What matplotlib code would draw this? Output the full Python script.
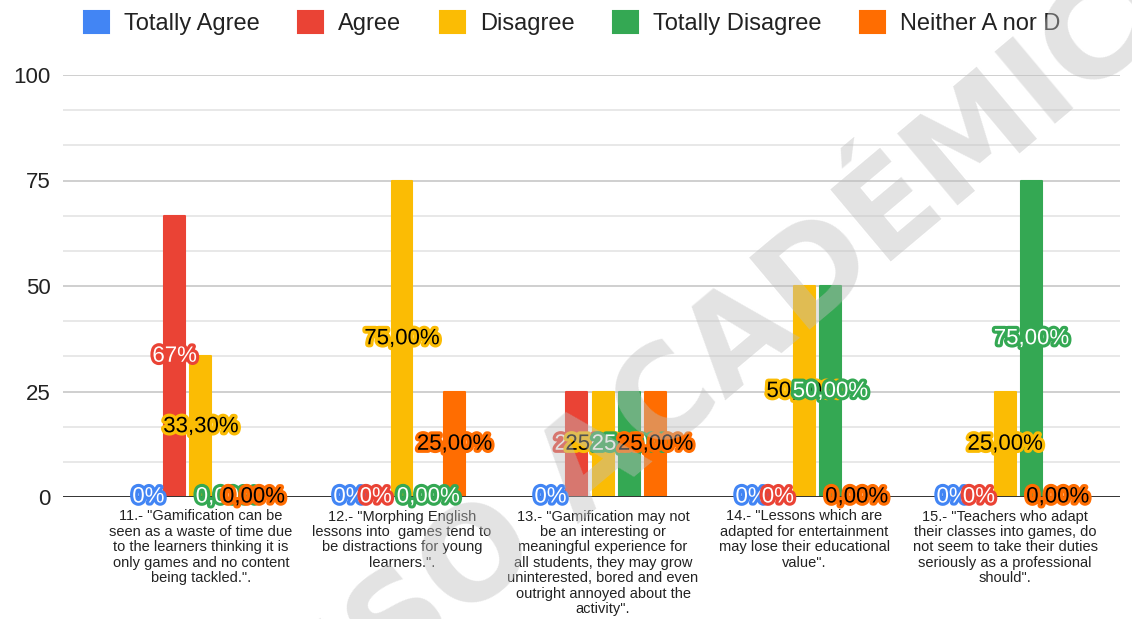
import matplotlib
matplotlib.use("Agg")
import matplotlib.pyplot as plt
import matplotlib.patheffects as pe
import numpy as np

plt.rcParams['font.family'] = ['Liberation Sans', 'DejaVu Sans']

categories = [
    '11.- "Gamification can be\nseen as a waste of time due\nto the learners thinking it is\nonly games and no content\nbeing tackled.".',
    '12.- "Morphing English\nlessons into  games tend to\nbe distractions for young\nlearners.".',
    '13.- "Gamification may not\nbe an interesting or\nmeaningful experience for\nall students, they may grow\nuninterested, bored and even\noutright annoyed about the\nactivity".',
    '14.- "Lessons which are\nadapted for entertainment\nmay lose their educational\nvalue".',
    '15.- "Teachers who adapt\ntheir classes into games, do\nnot seem to take their duties\nseriously as a professional\nshould".',
]
series_names = ['Totally Agree', 'Agree', 'Disagree', 'Totally Disagree', 'Neither A nor D']
totally_agree = [0, 0, 0, 0, 0]
agree = [66.7, 0, 25, 0, 0]
disagree = [33.3, 75, 25, 50, 25]
totally_disagree = [0, 0, 25, 50, 75]
neither = [0, 25, 25, 0, 0]

totally_agree_labels = ['0%', '0%', '0%', '0%', '0%']
agree_labels = ['67%', '0%', '25%', '0%', '0%']
disagree_labels = ['33,30%', '75,00%', '25,00%', '50,00%', '25,00%']
totally_disagree_labels = ['0,00%', '0,00%', '25,00%', '50,00%', '75,00%']
neither_labels = ['0,00%', '25,00%', '25,00%', '0,00%', '0,00%']

y_ticks = [0, 25, 50, 75, 100]
watermark = 'USO ACADÉMICO'

values = [totally_agree, agree, disagree, totally_disagree, neither]
labels = [totally_agree_labels, agree_labels, disagree_labels, totally_disagree_labels, neither_labels]
colors = ['#4285F4', '#EA4335', '#FBBC04', '#34A853', '#FF6D01']
text_colors = ['white', 'white', 'black', 'white', 'black']

W, H = 1132, 619
fig = plt.figure(figsize=(W / 100, H / 100), dpi=100)
ax = fig.add_axes([63 / W, 1 - 497 / H, (1120 - 63) / W, (497 - 75) / H])

x = np.arange(len(categories))
pitch = 0.1307
width = 0.104

# grid
for v in np.arange(0, 100.01, 25 / 3):
    major = abs(v / 25 - round(v / 25)) < 1e-6
    if v == 0:
        continue
    ax.axhline(v, color='#cccccc' if major else '#e6e6e6', lw=1.3, zorder=0)
ax.axhline(0, color='#333333', lw=1.4, zorder=3)

for i, (vals, c) in enumerate(zip(values, colors)):
    ax.bar(x + (i - 2) * pitch, vals, width, color=c, edgecolor=c, linewidth=1.5,
           joinstyle='round', label=series_names[i], zorder=2)

for i, (vals, labs) in enumerate(zip(values, labels)):
    for j in range(len(categories)):
        ax.text(x[j] + (i - 2) * pitch, vals[j] / 2, labs[j], ha='center', va='center',
                fontsize=16, color=text_colors[i], zorder=5, clip_on=False,
                path_effects=[pe.withStroke(linewidth=4.5, foreground=colors[i])])

ax.set_xlim(-0.686, 4.571)
ax.set_ylim(0, 100)
ax.set_yticks(y_ticks)
ax.set_yticklabels([str(t) for t in y_ticks], fontsize=16, color='#222222')
ax.tick_params(axis='y', length=0, pad=9)
ax.set_xticks(x)
ax.set_xticklabels(categories, fontsize=10.5, color='#222222', linespacing=1.13, va='top')
ax.tick_params(axis='x', length=0, pad=9)
for s in ax.spines.values():
    s.set_visible(False)

leg = ax.legend(loc='center', bbox_to_anchor=(572 / W, 1 - 23 / H), bbox_transform=fig.transFigure,
                ncol=5, frameon=False, fontsize=17, handlelength=1.06, handleheight=1.06,
                handletextpad=0.64, columnspacing=1.62, borderaxespad=0, borderpad=0)
for t in leg.get_texts():
    t.set_color('#222222')

fig.text(774 / W, 1 - 359 / H, watermark, rotation=40, ha='center', va='baseline',
         fontsize=92, fontweight='bold', family='DejaVu Sans',
         color=(190 / 255, 190 / 255, 190 / 255), alpha=0.43,
         zorder=10, rotation_mode='anchor')

fig.savefig('out.png', dpi=100)
